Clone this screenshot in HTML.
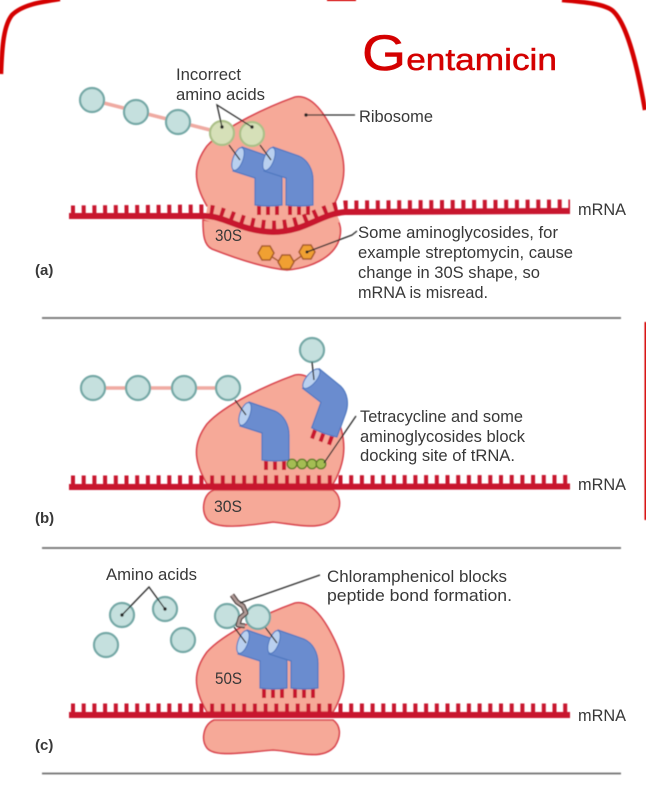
<!DOCTYPE html>
<html><head><meta charset="utf-8"><style>
html,body{margin:0;padding:0;background:#fff}
svg{display:block}
text{font-family:"Liberation Sans",sans-serif;font-size:16.5px;fill:#383838}
.l{stroke:#2c2c2c;stroke-width:1.3;fill:none}
.rib{fill:#f6a998;stroke:#d9404c;stroke-width:1.6}
.bar{stroke:#c8152f;fill:none}
.aa{fill:#c5e0de;stroke:#74a8a6;stroke-width:2.2}
.bad{fill:#d6e0b8;stroke:#abc088;stroke-width:2.2}
.pep{stroke:#efaaa2;stroke-width:3.5;fill:none}
.hex{fill:#f0a030;stroke:#a85a28;stroke-width:1.5}
.gr{fill:#a4bd52;stroke:#5f7d25;stroke-width:1.4}
</style></head><body>
<svg width="646" height="785" viewBox="0 0 646 785" xmlns="http://www.w3.org/2000/svg">
<defs>
<filter id="b" x="-5%" y="-5%" width="110%" height="110%"><feGaussianBlur stdDeviation="0.45"/></filter>
<path id="up" d="M207,206 C193,182 193,165 207,146 C225,126 270,106 295,97 C312,94 325,114 335,135 C347,160 347,182 333,206 Z"/>
<g id="t">
<path d="M259,205V215M268,205V215M277,205V215" stroke="#c8152f" stroke-width="4" fill="none"/>
<path d="M242,147 L268,156 C277,160 282,170 282,180 L282,205 Q268,207 255,205 L255,178 L233,171 Z" fill="#6a8ccf" stroke="#4f78c0" stroke-width="1.2"/>
<ellipse cx="238" cy="159" rx="5" ry="12" transform="rotate(20 238 159)" fill="#b9d0ef" stroke="#4f78c0" stroke-width="1.1"/>
</g>
</defs>
<g filter="url(#b)">
<!-- panel a -->
<use href="#up" class="rib"/>
<path class="rib" d="M203,220 C203,235 204,245 212,249 C235,258 265,268 287,270 C310,268 333,258 339,240 C342,230 340,225 338,220 L310,226 L273,233 L235,224 Z"/>
<path d="M208,203 L332,203 L340,222 L310,232 L273,238 L235,230 L205,220 Z" fill="#f6a998"/>
<line class="pep" x1="92" y1="100" x2="222" y2="133"/>
<use href="#t"/>
<use href="#t" transform="translate(31,0)"/>
<line class="l" x1="229" y1="145" x2="240" y2="160"/>
<line class="l" x1="260" y1="145" x2="271" y2="160"/>
<circle class="aa" cx="92" cy="100" r="12"/><circle class="aa" cx="136" cy="112" r="12"/><circle class="aa" cx="178" cy="122" r="12"/>
<circle class="bad" cx="222" cy="133" r="12"/><circle class="bad" cx="252" cy="134" r="12"/>
<path d="M69,216 L205,216 C225,216 240,231 273,232 C305,232 320,214 345,212 L570,211" class="bar" stroke-width="6"/>
<path d="M71,210 L205,209 C225,209 240,224 273,225 C305,225 320,207 345,205 L570,204" class="bar" stroke-width="9" stroke-dasharray="4 6.7"/>
<path d="M266,253L280,262M293,262L307,252" stroke="#a85a28" stroke-width="1.5"/>
<polygon class="hex" points="258,253 262,246 270,246 274,253 270,260 262,260"/>
<polygon class="hex" points="278,262 282,255 290,255 294,262 290,269 282,269"/>
<polygon class="hex" points="299,252 303,245 311,245 315,252 311,259 303,259"/>
<path class="l" d="M307,252 L352,235 L357,231"/>
<circle cx="307" cy="252" r="1.5" fill="#222"/>
<path class="l" d="M306,115H355"/><circle cx="306" cy="115" r="1.7" fill="#222"/>
<path class="l" d="M222,127 L217,105 L252,127"/><circle cx="222" cy="127" r="1.7" fill="#222"/><circle cx="252" cy="127" r="1.7" fill="#222"/>
<!-- panel b -->
<use href="#up" class="rib" transform="translate(0,278)"/>
<path class="rib" d="M214,490 C203,494 201,510 207,519 C215,530 245,526 273,522 C295,524 325,533 336,515 C342,505 340,495 333,490 Z"/>
<line class="pep" x1="93" y1="388" x2="228" y2="388"/>
<circle class="aa" cx="93" cy="388" r="12"/><circle class="aa" cx="138" cy="388" r="12"/><circle class="aa" cx="184" cy="388" r="12"/><circle class="aa" cx="228" cy="388" r="12"/>
<circle class="aa" cx="312" cy="350" r="12"/>
<use href="#t" transform="translate(7,255)"/>
<use href="#t" transform="translate(312,380) rotate(20) translate(-239,-160)"/>
<line class="l" x1="235" y1="400" x2="246" y2="415"/>
<line class="l" x1="312" y1="362" x2="314" y2="380"/>
<line class="bar" x1="69" y1="487" x2="570" y2="486.5" stroke-width="6"/>
<line class="bar" x1="71" y1="480" x2="570" y2="479.5" stroke-width="9" stroke-dasharray="4 6.7"/>
<circle class="gr" cx="292" cy="464" r="4.8"/><circle class="gr" cx="302" cy="464" r="4.8"/><circle class="gr" cx="312" cy="464" r="4.8"/><circle class="gr" cx="321" cy="464" r="4.8"/>
<path class="l" d="M324,463 L356,416"/>
<!-- panel c -->
<use href="#up" class="rib" transform="translate(0,506)"/>
<path class="rib" d="M214,720 C203,725 201,740 207,748 C215,758 245,752 273,750 C295,751 322,762 335,746 C342,735 340,725 333,720 Z"/>
<use href="#t" transform="translate(5,483)"/>
<use href="#t" transform="translate(36,483)"/>
<line class="l" x1="234" y1="627" x2="246" y2="643"/>
<line class="l" x1="265" y1="627" x2="277" y2="643"/>
<circle class="aa" cx="122" cy="615" r="12"/><circle class="aa" cx="165" cy="609" r="12"/><circle class="aa" cx="106" cy="645" r="12"/><circle class="aa" cx="183" cy="640" r="12"/><circle class="aa" cx="227" cy="616" r="12"/><circle class="aa" cx="258" cy="617" r="12"/>
<line class="bar" x1="69" y1="715" x2="570" y2="715" stroke-width="6"/>
<line class="bar" x1="71" y1="708" x2="570" y2="708" stroke-width="9" stroke-dasharray="4 6.7"/>
<path d="M232,595 L237,602 L243,606 L246,613 L240,618 L238,625 L245,626" fill="none" stroke="#4a3c3a" stroke-width="5" stroke-linejoin="round"/>
<path d="M232,595 L237,602 L243,606 L246,613 L240,618 L238,625 L245,626" fill="none" stroke="#b09a96" stroke-width="2.6" stroke-linejoin="round"/>
<path class="l" d="M240,603 L320,575"/>
<path class="l" d="M122,615 L149,587 L165,609"/><circle cx="122" cy="615" r="1.7" fill="#222"/><circle cx="165" cy="609" r="1.7" fill="#222"/>
<!-- dividers -->
<g stroke="#6f6f6f" stroke-width="1.8"><line x1="42" y1="318" x2="621" y2="318"/><line x1="42" y1="548" x2="621" y2="548"/><line x1="42" y1="773.5" x2="621" y2="773.5"/></g>
<!-- border -->
<g fill="none" stroke="#d40000">
<path stroke-width="4.5" d="M1,74 C2,45 4,25 12,15 C22,5 40,2 60,-1"/>
<path stroke-width="4.5" d="M562,0 C585,2 605,4 613,11 C628,25 638,70 645,110"/>
<path stroke-width="2" d="M327,0H356"/>
<path stroke-width="2" d="M645.5,322V520"/>
</g>
</g>
<text x="176" y="80" textLength="65" lengthAdjust="spacingAndGlyphs">Incorrect</text>
<text x="176" y="100" textLength="89" lengthAdjust="spacingAndGlyphs">amino acids</text>
<text x="359" y="122" textLength="74" lengthAdjust="spacingAndGlyphs">Ribosome</text>
<text x="578" y="215" textLength="48" lengthAdjust="spacingAndGlyphs">mRNA</text>
<text x="578" y="490" textLength="48" lengthAdjust="spacingAndGlyphs">mRNA</text>
<text x="578" y="721" textLength="48" lengthAdjust="spacingAndGlyphs">mRNA</text>
<text x="215" y="241" textLength="27" lengthAdjust="spacingAndGlyphs">30S</text>
<text x="214" y="512" textLength="28" lengthAdjust="spacingAndGlyphs">30S</text>
<text x="215" y="684" textLength="27" lengthAdjust="spacingAndGlyphs">50S</text>
<text x="358" y="238" textLength="200" lengthAdjust="spacingAndGlyphs">Some aminoglycosides, for</text>
<text x="358" y="258" textLength="215" lengthAdjust="spacingAndGlyphs">example streptomycin, cause</text>
<text x="358" y="278" textLength="182" lengthAdjust="spacingAndGlyphs">change in 30S shape, so</text>
<text x="358" y="298" textLength="130" lengthAdjust="spacingAndGlyphs">mRNA is misread.</text>
<text x="360" y="422" textLength="163" lengthAdjust="spacingAndGlyphs">Tetracycline and some</text>
<text x="360" y="442" textLength="165" lengthAdjust="spacingAndGlyphs">aminoglycosides block</text>
<text x="360" y="461" textLength="155" lengthAdjust="spacingAndGlyphs">docking site of tRNA.</text>
<text x="106" y="580" textLength="91" lengthAdjust="spacingAndGlyphs">Amino acids</text>
<text x="327" y="582" textLength="180" lengthAdjust="spacingAndGlyphs">Chloramphenicol blocks</text>
<text x="327" y="601" textLength="185" lengthAdjust="spacingAndGlyphs">peptide bond formation.</text>
<text x="35" y="275" style="font-weight:bold;font-size:15px">(a)</text>
<text x="35" y="523" style="font-weight:bold;font-size:15px">(b)</text>
<text x="35" y="750" style="font-weight:bold;font-size:15px">(c)</text>
<text x="362" y="70" textLength="195" lengthAdjust="spacingAndGlyphs" style="font-size:31px;fill:#d40000;stroke:#d40000;stroke-width:0.5"><tspan style="font-size:50px">G</tspan>entamicin</text>
</svg>
</body></html>
